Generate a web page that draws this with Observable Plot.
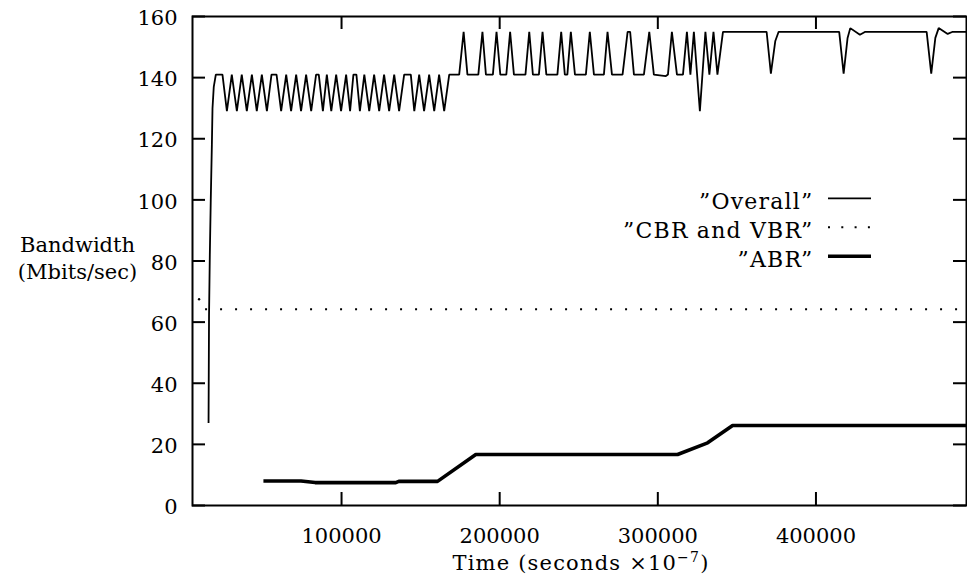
<!DOCTYPE html>
<html>
<head>
<meta charset="utf-8">
<script src="https://cdn.jsdelivr.net/npm/d3@7"></script>
<script src="https://cdn.jsdelivr.net/npm/@observablehq/plot@0.6"></script>
<style>
  html, body { margin: 0; padding: 0; background: #fff; }
  #chart { width: 967px; height: 582px; }
</style>
</head>
<body>
<div id="chart"></div>
<script>
// ---- data ----
const overallTime = [
  15900, 16200, 16700, 17300, 18000, 18400, 19200, 20500, 24700,
  27500, 30600, 33800, 36900, 40100, 43300, 46400, 49600, 52800,
  55700, 58900, 61800, 65000, 68100, 71300, 74400, 77600, 80800,
  83900, 85600, 88200, 90700, 93500, 96600, 99700, 102900, 105400,
  107500, 109400, 111600, 114400, 117500, 120600, 123800, 126900, 130100,
  133300, 136400, 139600, 143800, 146000, 149100, 152200, 155400, 158600,
  161700, 164900, 168100, 174400,
  177200, 179600, 186500, 189100, 191300, 195700, 198000, 200400, 204200,
  206600, 209000, 216300, 218700, 221000, 224800, 227100, 229500, 236500,
  238900, 241200, 242800, 245000, 247600, 254500, 257000, 259600, 265900,
  268200, 271000, 277700, 280900, 282500, 284900, 291200, 294600, 297500,
  305100, 306400, 308900, 312100, 315900, 318400, 320600, 322800, 326600,
  330100, 332600, 335200, 337700, 341200,
  368800, 371500, 374300, 376400, 414700, 417500, 420000, 421700, 427800,
  431200, 470000, 472900, 475500, 477600, 483300, 486500, 495200
];
const overallBw = [
  27, 62, 82, 100, 118, 130, 137, 141, 141,
  129, 141, 129, 141, 129, 141, 129, 141, 129,
  141, 141, 129, 141, 129, 141, 129, 141, 129,
  141, 141, 129, 141, 129, 141, 129, 141, 129,
  141, 141, 129, 141, 129, 141, 129, 141, 129,
  141, 129, 141, 141, 129, 141, 129, 141, 129,
  141, 129, 141, 141,
  155, 141, 141, 155, 141, 141, 155, 141, 141,
  155, 141, 141, 155, 141, 141, 155, 141, 141,
  155, 141, 141, 155, 141, 141, 155, 141, 141,
  155, 141, 141, 155, 155, 141, 141, 155, 141,
  140.5, 141, 155, 141, 141, 155, 141, 155, 129,
  155, 141, 155, 141, 155,
  155, 141.3, 152, 155, 155, 141.3, 153, 156.2, 154,
  155, 155, 141.3, 153, 156.2, 154.3, 155, 155
];

const cbrTime = [9900, 13700, 495200];
const cbrBw = [67.5, 64.2, 64.2];

const abrTime = [50600, 74400, 83300, 134300, 136200, 160700, 184900, 312500, 331500, 347300, 495200];
const abrBw = [8.0, 8.0, 7.5, 7.5, 7.9, 7.9, 16.7, 16.7, 20.5, 26.2, 26.2];

const xTicks = [100000, 200000, 300000, 400000];
const yTicks = [0, 20, 40, 60, 80, 100, 120, 140, 160];
const legendLabels = ["\u201DOverall\u201D", "\u201DCBR and VBR\u201D", "\u201DABR\u201D"];
const yLabel = "Bandwidth\n(Mbits/sec)";
const xLabelMain = "Time (seconds \u00D710";
const xLabelSup = "\u22127";

// ---- build tables ----
const overall = overallTime.map((t, i) => ({t, v: overallBw[i]}));
const cbr = cbrTime.map((t, i) => ({t, v: cbrBw[i]}));
const abr = abrTime.map((t, i) => ({t, v: abrBw[i]}));

const FONT = "DejaVu Serif";
const FS = 21;
const W = 967, H = 582, ML = 192, MR = 1, MT = 16, MB = 77;
const innerW = W - ML - MR, innerH = H - MT - MB, TICK = 13;

const chart = Plot.plot({
  width: W, height: H,
  marginLeft: ML, marginRight: MR, marginTop: MT, marginBottom: MB,
  style: {fontFamily: FONT, fontSize: FS + "px", color: "black", background: "white", overflow: "visible"},
  x: {domain: [5750, 495200]},
  y: {domain: [0, 160]},
  marks: [
    Plot.ruleY(yTicks, {insetRight: innerW - TICK, strokeWidth: 2}),
    Plot.ruleY(yTicks, {insetLeft: innerW - TICK, strokeWidth: 2}),
    Plot.ruleX(xTicks, {insetTop: innerH - TICK, strokeWidth: 2}),
    Plot.ruleX(xTicks, {insetBottom: innerH - TICK, strokeWidth: 2}),
    Plot.axisX({ticks: xTicks, tickSize: 0, tickPadding: 23, label: null, tickFormat: d => String(d), fontSize: FS, fontFamily: FONT}),
    Plot.axisY({ticks: yTicks, tickSize: 0, tickPadding: 15, dy: 2, label: null, tickFormat: d => String(d), fontSize: FS, fontFamily: FONT}),
    Plot.line(overall, {x: "t", y: "v", stroke: "black", strokeWidth: 1.8, strokeLinejoin: "miter", strokeLinecap: "butt"}),
    Plot.dot(cbr.slice(0, 1), {x: "t", y: "v", r: 1.2, fill: "black", stroke: null}),
    Plot.line(cbr.slice(1), {x: "t", y: "v", stroke: "black", strokeWidth: 2, strokeDasharray: "2,13", strokeLinecap: "butt"}),
    Plot.line(abr, {x: "t", y: "v", stroke: "black", strokeWidth: 3.6, strokeLinejoin: "round", strokeLinecap: "butt"}),
    Plot.frame({stroke: "black", strokeWidth: 2}),
    Plot.text([yLabel], {text: d => d, frameAnchor: "top-left", dx: -115, dy: 216, textAnchor: "middle", lineAnchor: "top", lineHeight: 1.3, fontSize: FS, fontFamily: FONT}),
    ...legendLabels.map((lab, i) => Plot.text([lab], {
      text: d => d, frameAnchor: "top-right", textAnchor: "end", lineAnchor: "middle",
      dx: -153, dy: 198.3 - MT + 3.3 + i * 29, fontSize: 22, fontFamily: FONT
    }))
  ]
});

document.getElementById("chart").appendChild(chart);

// ---- decorations: legend samples, letter spacing, x title with superscript ----
const svg = d3.select(chart);
svg.selectAll("text").filter(function() { return legendLabels.includes(this.textContent); })
  .style("letter-spacing", "1.2px");

const samples = [
  {w: 1.8, dash: null},
  {w: 2, dash: "2,11.3"},
  {w: 3.6, dash: null}
];
samples.forEach((s, i) => {
  const y = 198.3 + i * 29;
  const ln = svg.append("line")
    .attr("x1", 828).attr("x2", 871)
    .attr("y1", y).attr("y2", y)
    .attr("stroke", "black").attr("stroke-width", s.w);
  if (s.dash) ln.attr("stroke-dasharray", s.dash);
});

const title = svg.append("text")
  .attr("x", (ML + W - MR) / 2 + 2)
  .attr("y", 570)
  .attr("text-anchor", "middle")
  .style("font-family", FONT)
  .style("letter-spacing", "1.2px")
  .attr("font-size", FS)
  .attr("fill", "black");
title.append("tspan").text(xLabelMain);
title.append("tspan").attr("dy", -8).attr("font-size", 14).text(xLabelSup);
title.append("tspan").attr("dy", 8).text(")");
</script>
</body>
</html>
